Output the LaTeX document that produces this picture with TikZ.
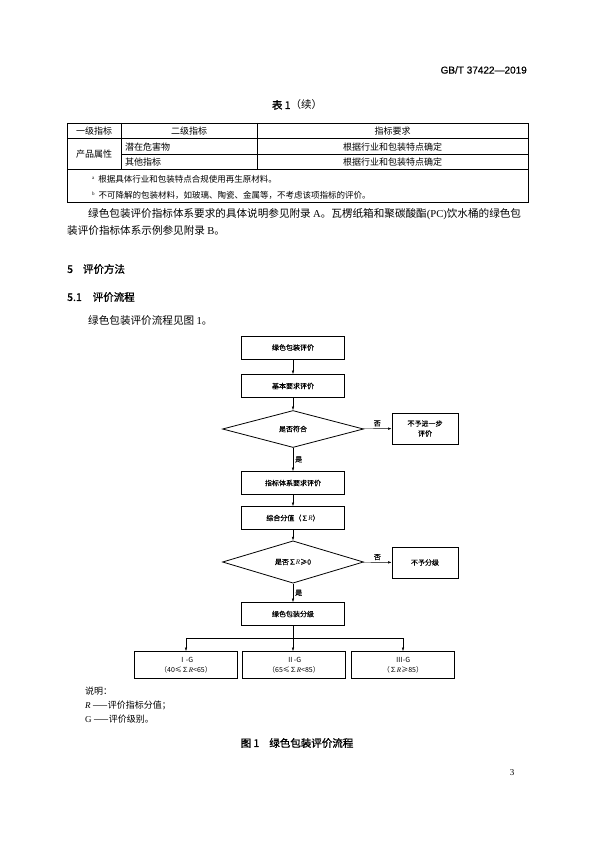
\documentclass[tikz,border=0pt]{standalone}
\usepackage{fontspec}
\setmainfont{Noto Sans CJK SC}
\newfontfamily\lat{Liberation Serif}
\newfontfamily\hei[FakeBold=1.2]{Noto Sans CJK SC}
\newfontfamily\semi[FakeBold=0.3]{Noto Sans CJK SC}
\newfontfamily\arialbf[FakeBold=0.6]{Liberation Sans}
\usetikzlibrary{shapes.geometric,arrows.meta}
\newcommand\sz[2]{\fontsize{#1pt}{#2pt}\selectfont}
\tikzset{x=1pt, y=-1pt, >={Latex[length=3.5pt,width=2.4pt]},
  box/.style = {draw, line width=.8pt, minimum width=103pt, minimum height=23pt,
    inner sep=1pt, align=center, font=\semi\sz{7}{10}},
  choice/.style = {diamond, draw, line width=.8pt, minimum width=141pt,
    minimum height=37pt, inner sep=0pt, font=\semi\sz{7}{10}},
  grade/.style = {box, minimum height=27pt, font=\sz{7}{10}},
  flow/.style = {->, line width=.4pt},
  lbl/.style = {inner sep=2pt, font=\semi\sz{7}{10}},
  body/.style = {anchor=west, inner sep=0pt, font=\sz{10.6}{16}},
  cell/.style = {inner sep=0pt, font=\sz{9}{11}},
  note/.style = {anchor=west, inner sep=0pt, font=\sz{8.5}{11}}}
\begin{document}
\begin{tikzpicture}
        \fill[white] (0,0) rectangle (595,842);
        \useasboundingbox (0,0) rectangle (595,842);
        \node[anchor=east, inner sep=0pt, font=\arialbf\sz{10}{12}] (stdno) at (527,70) {GB/T 37422—2019};
        \node[inner sep=0pt, font=\sz{10.5}{12}] (tabtitle) at (297,105) {{\hei 表 1}（续）};
        % table 1 (continued)
        \draw[line width=.8pt] (67,123) rectangle (528,202);
        \draw[line width=.5pt] (67,138) -- (528,138) (121,154) -- (528,154) (67,169) -- (528,169)
          (121,123) -- (121,169) (257,123) -- (257,169);
        \node[cell] (h1) at (94,131) {一级指标};
        \node[cell] (h2) at (189,131) {二级指标};
        \node[cell] (h3) at (392.5,131) {指标要求};
        \node[cell] (c1) at (94,154) {产品属性};
        \node[cell, anchor=west] (c2) at (125,147) {潜在危害物};
        \node[cell, anchor=west] (c3) at (125,162) {其他指标};
        \node[cell] (c4) at (392.5,147) {根据行业和包装特点确定};
        \node[cell] (c5) at (392.5,162) {根据行业和包装特点确定};
        \node[note] (fna) at (92,179) {\raisebox{3pt}{\lat\sz{5}{5}a}\hspace{4pt}根据具体行业和包装特点合规使用再生原材料。};
        \node[note] (fnb) at (92,195) {\raisebox{3pt}{\lat\sz{5}{5}b}\hspace{4pt}不可降解的包装材料，如玻璃、陶瓷、金属等，不考虑该项指标的评价。};
        % text
        \node[body] (par1) at (88,214) {绿色包装评价指标体系要求的具体说明参见附录 {\lat A}。瓦楞纸箱和聚碳酸酯{\lat (PC)}饮水桶的绿色包};
        \node[body] (par2) at (67,230) {装评价指标体系示例参见附录 {\lat B}。};
        \node[body, font=\hei\sz{10.5}{12}] (sec5) at (67,269) {5\hspace{10pt}评价方法};
        \node[body, font=\hei\sz{10.5}{12}] (sec51) at (67,297) {5.1\hspace{11pt}评价流程};
        \node[body] (par3) at (88,320) {绿色包装评价流程见图 {\lat 1}。};
        % figure 1
        \node[box] (start) at (293,347.5) {绿色包装评价};
        \node[box] (basic) at (293,386) {基本要求评价};
        \node[choice] (check) at (293,429) {是否符合};
        \node[box, minimum width=66pt, minimum height=31pt] (stop) at (425,428.5) {不予进一步\\评价};
        \node[box] (system) at (293,483) {指标体系要求评价};
        \node[box] (score) at (293,518) {综合分值（∑{\lat\itshape R}）};
        \node[choice] (check2) at (293,562) {是否∑{\lat\itshape R}≥0};
        \node[box, minimum width=66pt, minimum height=31pt] (nograde) at (425,562.5) {不予分级};
        \node[box] (grading) at (293,614) {绿色包装分级};
        \node[grade] (g1) at (186,665) {Ⅰ-G\\（40≤∑{\lat\itshape R}<65）};
        \node[grade] (g2) at (294,665) {Ⅱ-G\\（65≤∑{\lat\itshape R}<85）};
        \node[grade] (g3) at (403,665) {Ⅲ-G\\（∑{\lat\itshape R}≥85）};
        \draw[flow] (start) -- (basic);
        \draw[flow] (basic) -- (check);
        \draw[flow] (check) -- node[lbl, right] {是} (system);
        \draw[flow] (check) -- node[lbl, above] {否} (stop);
        \draw[flow] (system) -- (score);
        \draw[flow] (score) -- (check2);
        \draw[flow] (check2) -- node[lbl, right] {是} (grading);
        \draw[flow] (check2) -- node[lbl, above] {否} (nograde);
        \draw[line width=.4pt] (grading.south) -- ++(0,12) coordinate (split);
        \draw[flow] (split) -| (g1);
        \draw[flow] (split) -| (g3);
        \draw[flow] (split) -- (split |- g2.north);
        % key and caption
        \node[note, font=\sz{9}{11}] (key) at (85,691) {说明：};
        \node[note, font=\sz{9}{11}] (keyr) at (85,705) {{\lat\itshape R} ——评价指标分值；};
        \node[note, font=\sz{9}{11}] (keyg) at (85,719) {{\lat G} ——评价级别。};
        \node[inner sep=0pt, font=\hei\sz{10.5}{12}] (caption) at (297,743) {图 1\hspace{10pt}绿色包装评价流程};
        \node[inner sep=0pt, font=\lat\sz{9}{11}] (page) at (512,773) {3};
\end{tikzpicture}
\end{document}
